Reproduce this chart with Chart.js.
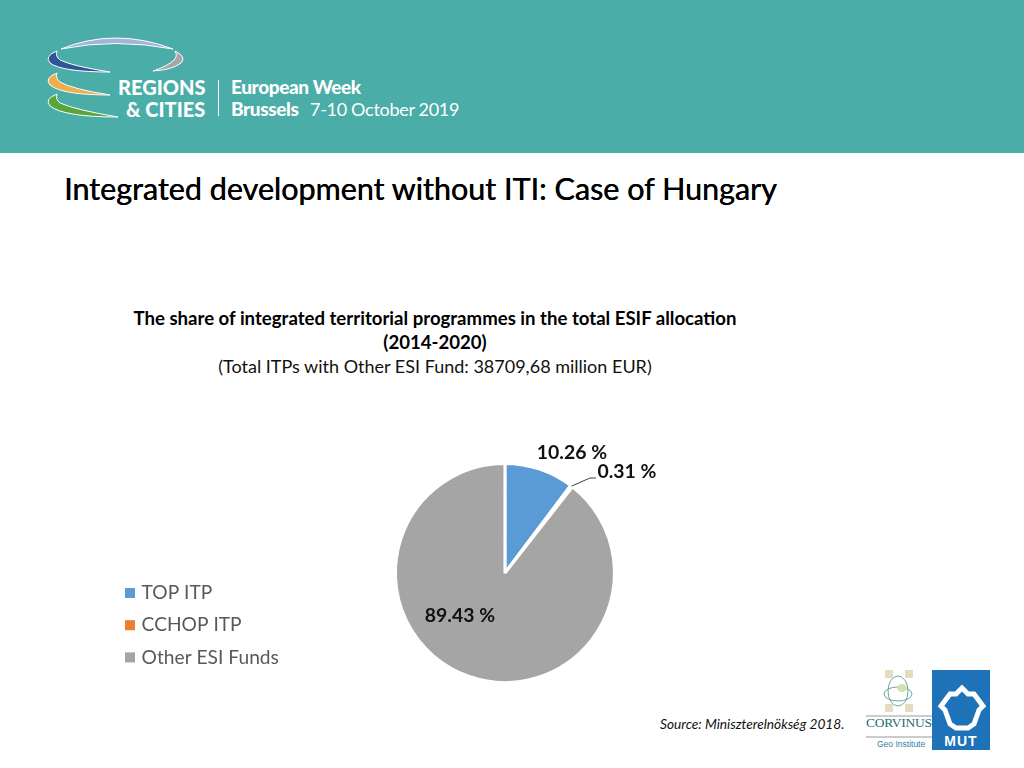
<!DOCTYPE html>
<html>
<head>
<meta charset="utf-8">
<title>Integrated development without ITI</title>
<script src="https://cdn.jsdelivr.net/npm/chart.js@4"></script>
<style>
html, body { margin: 0; padding: 0; background: #fff; }
body { width: 1024px; height: 768px; position: relative; overflow: hidden; font-family: Lato, sans-serif; }
.abs { position: absolute; white-space: nowrap; }
#band { left: 0; top: 0; width: 1024px; height: 153px; background: #4aada8; }
#slideTitle { left: 64px; top: 169px; font-size: 30.5px; line-height: 38px; color: #000; text-shadow: 0.4px 0 0 #000; }
#chartTitle { left: 35px; top: 306px; width: 800px; text-align: center; font-size: 18.6px; line-height: 24px; color: #000; font-weight: 700; }
#chartTitle span { font-weight: 400; font-size: 18px; color: #111; }
#source { left: 660px; top: 716px; font-size: 13.7px; line-height: 16px; font-style: italic; color: #111; }
.logoText { color: #fff; font-weight: 900; font-size: 19px; line-height: 22px; }
#wrap { left: 115px; top: 440px; width: 606px; height: 250px; }
</style>
</head>
<body>
<div class="abs" id="band"></div>
<svg class="abs" style="left:0;top:0" width="240" height="130">
  <path d="M61 49 Q115 27 173 49 Q115 38 61 49Z" fill="#a5b3dc" stroke="#fff" stroke-width="1"/>
  <path d="M57 51 Q44 56 50 63 Q62 72 110 72 Q72 66 60 60 Q55 56 57 51Z" fill="#2f5597" stroke="#fff" stroke-width="1"/>
  <path d="M175 51 Q187 57 181 63 Q172 70 153 71 Q168 66 174 60 Q178 56 175 51Z" fill="#a6a6a6" stroke="#fff" stroke-width="1"/>
  <path d="M57 73 Q44 78 50 85 Q62 95 110 95 Q72 89 60 82 Q55 78 57 73Z" fill="#f0ad4e" stroke="#fff" stroke-width="1"/>
  <path d="M57 94 Q44 99 50 106 Q64 117 118 117 Q76 110 60 103 Q55 99 57 94Z" fill="#5aa43c" stroke="#fff" stroke-width="1"/>
</svg>
<div class="abs logoText" style="left:118px;top:76px;font-size:20px">REGIONS</div>
<div class="abs logoText" style="left:126px;top:98px;font-size:20px">&amp; CITIES</div>
<div class="abs" style="left:218px;top:80px;width:1px;height:36px;background:#fff"></div>
<div class="abs logoText" style="left:231px;top:76px;letter-spacing:-0.4px">European Week</div>
<div class="abs logoText" style="left:231px;top:98px;letter-spacing:-0.4px">Brussels</div>
<div class="abs logoText" style="left:310px;top:98px;font-size:18px;font-weight:400;letter-spacing:-0.3px">7-10 October 2019</div>

<div class="abs" id="slideTitle">Integrated development without ITI: Case of Hungary</div>

<div class="abs" id="chartTitle">The share of integrated territorial programmes in the total ESIF allocation<br>(2014-2020)<br><span>(Total ITPs with Other ESI Fund: 38709,68 million EUR)</span></div>

<div class="abs" id="wrap"><canvas id="chart" width="606" height="250"></canvas></div>

<div class="abs" id="source">Source: Miniszterelnökség 2018.</div>

<svg class="abs" style="left:864px;top:668px" width="128" height="84">
  <rect x="68" y="2" width="58" height="80" fill="#1d72b8"/>
  <path d="M98 20 L104 26 L110 26 L119 38 L115 42 L110 56 L104 60 L92 60 L86 56 L81 42 L77 38 L86 26 L92 26Z" fill="none" stroke="#fff" stroke-width="5" stroke-linejoin="miter"/>
  <text x="97" y="78" text-anchor="middle" font-family="Liberation Sans" font-weight="700" font-size="14" letter-spacing="1" fill="#fff">MUT</text>
  <rect x="21" y="2" width="8" height="8" fill="#e3dcc0"/>
  <rect x="41" y="2" width="8" height="8" fill="#e3dcc0"/>
  <rect x="21" y="36" width="8" height="8" fill="#e3dcc0"/>
  <rect x="41" y="36" width="8" height="8" fill="#e3dcc0"/>
  <ellipse cx="34" cy="23" rx="10" ry="15" fill="none" stroke="#6aa89c" stroke-width="1"/>
  <ellipse cx="34" cy="26" rx="14" ry="7" fill="none" stroke="#6aa89c" stroke-width="1"/>
  <ellipse cx="38" cy="20" rx="5" ry="4" fill="#cfe3b0"/>
  <line x1="2" y1="48" x2="68" y2="48" stroke="#999"/>
  <text x="2" y="59" font-family="Liberation Serif" font-size="13.5" fill="#1f6f78" textLength="66">CORVINUS</text>
  <line x1="2" y1="69" x2="68" y2="69" stroke="#999"/>
  <text x="13" y="79" font-family="Liberation Sans" font-size="8.5" fill="#2f7fa5">Geo Institute</text>
</svg>

<script>
const categories = ['TOP ITP', 'CCHOP ITP', 'Other ESI Funds'];
const shares = [10.26, 0.31, 89.43];
const shareLabels = ['10.26 %', '0.31 %', '89.43 %'];
const sliceColors = ['#5b9bd5', '#ed7d31', '#a5a5a5'];

// label centres relative to the pie centre
const labelSpots = [[67, -120], [122, -101], [-45, 43]];

const sliceLabels = {
    id: 'sliceLabels',
    afterLayout(chart) {
        // legend rows sit a bit above the bottom of the pie
        chart.legend.top -= 4;
        chart.legend.bottom -= 4;
    },
    afterDatasetsDraw(chart) {
        const ctx = chart.ctx;
        const arcs = chart.getDatasetMeta(0).data;
        const cx = arcs[0].x, cy = arcs[0].y, r = arcs[0].outerRadius;
        ctx.save();
        // leader line of the thin slice
        const mid = (arcs[1].startAngle + arcs[1].endAngle) / 2;
        ctx.strokeStyle = '#404040';
        ctx.lineWidth = 1;
        ctx.beginPath();
        ctx.moveTo(cx + r * Math.cos(mid), cy + r * Math.sin(mid));
        ctx.lineTo(cx + 85, cy - 95);
        ctx.lineTo(cx + 91, cy - 95);
        ctx.stroke();
        ctx.font = 'bold 19.4px Lato';
        ctx.fillStyle = '#111';
        ctx.textAlign = 'center';
        ctx.textBaseline = 'middle';
        shareLabels.forEach((t, i) => {
            ctx.fillText(t, cx + labelSpots[i][0], cy + labelSpots[i][1]);
        });
        ctx.restore();
    }
};

new Chart(document.getElementById('chart'), {
    type: 'pie',
    data: {
        labels: categories,
        datasets: [{
            data: shares,
            backgroundColor: sliceColors,
            borderColor: '#fff',
            borderWidth: 3
        }]
    },
    options: {
        responsive: false,
        animation: false,
        layout: { padding: { top: 22, right: 0, bottom: 6, left: 0 } },
        plugins: {
            legend: {
                position: 'left',
                align: 'end',
                labels: {
                    usePointStyle: true,
                    pointStyle: 'rect',
                    boxWidth: 4,
                    boxHeight: 10,
                    padding: 13,
                    color: '#595959',
                    font: { family: 'Lato', size: 19.2 },
                    generateLabels(chart) {
                        return Chart.overrides.pie.plugins.legend.labels.generateLabels(chart)
                            .map(item => ({ ...item, lineWidth: 0 }));
                    }
                }
            },
            tooltip: { enabled: false }
        }
    },
    plugins: [sliceLabels]
});
</script>
</body>
</html>
